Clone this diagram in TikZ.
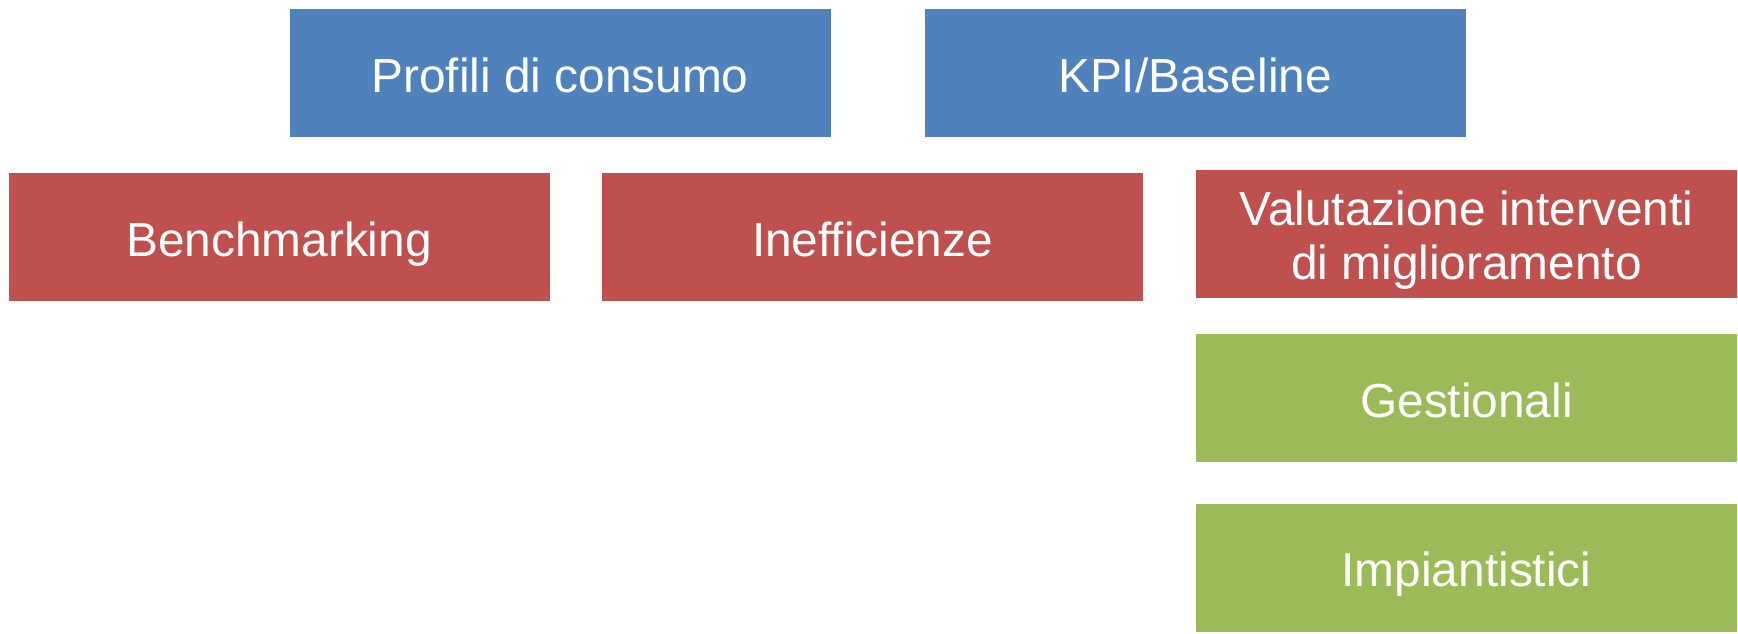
\documentclass[tikz,border=0pt]{standalone}
\usepackage{fontspec}
\setmainfont{Liberation Sans}
\usetikzlibrary{positioning}
\definecolor{boxblue}{HTML}{4F81BD}
\definecolor{boxred}{HTML}{C0504D}
\definecolor{boxgreen}{HTML}{9BBB59}
\begin{document}
\begin{tikzpicture}[x=1pt, y=-1pt, node distance=36pt,
    box/.style={rectangle, minimum width=541pt, minimum height=128pt, inner sep=0pt,
        align=center, text=white, text height=44pt, text depth=6pt,
        font=\fontsize{47.8}{54}\selectfont},
    bluebox/.style={box, fill=boxblue},
    redbox/.style={box, fill=boxred},
    greenbox/.style={box, fill=boxgreen}]
    \useasboundingbox (0,0) rectangle (1738,633);

    % Top row
    \node[bluebox] (profili) at (560,73) {Profili di consumo};
    \node[bluebox] (kpi) at (1195,73) {KPI/Baseline};

    % Middle row
    \node[redbox] (benchmarking) at (279,237) {Benchmarking};
    \node[redbox] (inefficienze) at (872.5,237) {Inefficienze};
    \node[redbox, text height=100pt, text depth=10pt] (valutazione) at (1466.5,234) {Valutazione interventi\\di miglioramento};

    % Interventions
    \node[greenbox, below=of valutazione] (gestionali) {Gestionali};
    \node[greenbox, below=41pt of gestionali] (impiantistici) {Impiantistici};
\end{tikzpicture}
\end{document}
